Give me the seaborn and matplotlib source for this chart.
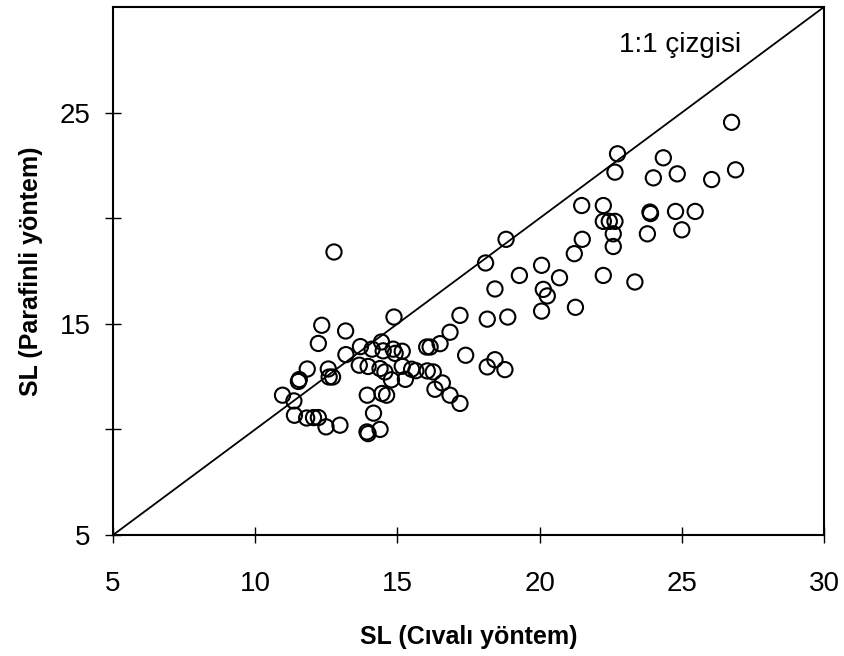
import matplotlib
matplotlib.use("Agg")
import matplotlib.pyplot as plt
import seaborn as sns
import pandas as pd

# Data
sl_civali = [10.96, 11.36, 11.38, 11.55, 11.52, 11.83, 11.81, 12.05, 12.22, 12.49,
             12.98, 12.22, 12.34, 13.18, 12.57, 12.60, 12.72, 12.77, 13.19, 13.66,
             13.70, 13.97, 14.11, 14.44, 14.50, 14.85, 14.92, 15.17, 14.39, 14.56,
             14.79, 15.17, 15.28, 15.50, 15.65, 16.05, 16.26, 16.58, 16.32, 16.85,
             17.20, 13.94, 14.46, 14.62, 14.16, 13.93, 13.97, 14.39, 14.88, 16.03,
             16.15, 16.50, 16.85, 17.40, 17.20, 18.16, 18.43, 18.16, 18.43, 18.78,
             18.88, 18.10, 18.82, 19.29, 20.07, 20.70, 20.13, 20.27, 20.07, 21.26,
             21.22, 21.50, 21.48, 22.24, 22.24, 22.45, 22.65, 22.59, 22.59, 22.24,
             23.35, 22.74, 22.65, 24.35, 24.00, 24.84, 23.88, 23.90, 24.78, 25.47,
             23.79, 25.00, 26.05, 26.89, 26.75]
sl_parafinli = [11.62, 11.35, 10.67, 12.36, 12.27, 12.86, 10.54, 10.56, 10.56, 10.12,
                10.20, 14.07, 14.93, 14.66, 12.86, 12.48, 12.48, 18.40, 13.54, 13.04,
                13.92, 12.98, 13.80, 14.14, 13.72, 13.80, 13.60, 13.70, 12.88, 12.72,
                12.35, 12.99, 12.37, 12.85, 12.78, 12.77, 12.72, 12.20, 11.90, 11.62,
                11.23, 11.62, 11.70, 11.62, 10.77, 9.88, 9.80, 10.00, 15.32, 13.90,
                13.90, 14.06, 14.60, 13.51, 15.40, 15.22, 16.65, 12.96, 13.30, 12.83,
                15.32, 17.88, 19.00, 17.29, 17.77, 17.18, 16.63, 16.32, 15.60, 15.78,
                18.32, 19.00, 20.60, 20.60, 19.85, 19.85, 19.85, 19.26, 18.66, 17.29,
                16.98, 23.05, 22.18, 22.86, 21.91, 22.10, 20.29, 20.22, 20.32, 20.32,
                19.26, 19.45, 21.83, 22.29, 24.54]
line_1to1 = [5, 30]
x_ticks = [5, 10, 15, 20, 25, 30]
y_ticks = [5, 10, 15, 20, 25]
y_tick_labels = ["5", "", "15", "", "25"]

df = pd.DataFrame({"civali": sl_civali, "parafinli": sl_parafinli})

sns.set_theme(style="white")
plt.rcParams["font.family"] = ["Liberation Sans", "DejaVu Sans"]
plt.rcParams["text.color"] = "black"
plt.rcParams["axes.labelcolor"] = "black"
plt.rcParams["xtick.color"] = "black"
plt.rcParams["ytick.color"] = "black"

fig = plt.figure(figsize=(8.44, 6.56), dpi=100)
ax = fig.add_axes([113 / 844, 1 - 535 / 656, (824 - 113) / 844, (535 - 7) / 656])

ax.plot(line_1to1, line_1to1, color="black", linewidth=1.3, zorder=1)
sns.scatterplot(data=df, x="civali", y="parafinli", ax=ax, marker="o", s=120,
                facecolor="none", edgecolor="black", linewidth=1.5, zorder=2)

ax.set_xlim(5, 30)
ax.set_ylim(5, 30)
ax.set_xticks(x_ticks)
ax.set_xticklabels([str(t) for t in x_ticks])
ax.set_yticks(y_ticks)
ax.set_yticklabels(y_tick_labels)
ax.tick_params(axis="both", which="major", bottom=True, left=True,
               direction="inout", length=12, width=1.0, colors="black",
               labelsize=20)
ax.tick_params(axis="x", pad=20)
ax.tick_params(axis="y", pad=10)
for s in ax.spines.values():
    s.set_color("black")
    s.set_linewidth(1.5)

ax.set_xlabel("SL (Cıvalı yöntem)", fontsize=18, fontweight="bold", labelpad=20,
              color="black")
ax.set_ylabel("SL (Parafinli yöntem)", fontsize=18, fontweight="bold", labelpad=12,
              color="black")
ax.text(27.1, 28.2, "1:1 çizgisi", ha="right", va="center", fontsize=20,
        color="black")

fig.savefig("out.png", dpi=100)
